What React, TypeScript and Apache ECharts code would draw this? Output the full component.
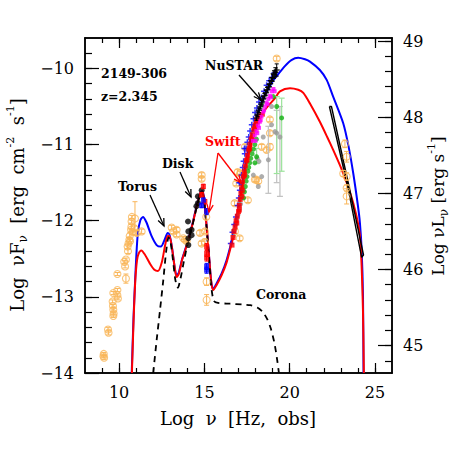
import React, { useEffect, useRef } from 'react';
import * as echarts from 'echarts';

// ---------- axes ----------
const X_MIN = 8, X_MAX = 26;
const Y_MIN = -14, Y_MAX = -9.6;
const R_MIN = 44.64, R_MAX = 49.04;
const xMajorTicks = [10, 15, 20, 25];
const xMinorTicks = [9, 10, 11, 12, 13, 14, 15, 16, 17, 18, 19, 20, 21, 22, 23, 24, 25];
const yMajorTicks = [-14, -13, -12, -11, -10];
const yMinorTicks = [-13.8, -13.6, -13.4, -13.2, -13, -12.8, -12.6, -12.4, -12.2, -12, -11.8, -11.6, -11.4, -11.2, -11, -10.8, -10.6, -10.4, -10.2, -10, -9.8];
const rMajorTicks = [45, 46, 47, 48, 49];
const rMinorTicks = [44.8, 45, 45.2, 45.4, 45.6, 45.8, 46, 46.2, 46.4, 46.6, 46.8, 47, 47.2, 47.4, 47.6, 47.8, 48, 48.2, 48.4, 48.6, 48.8, 49];

// ---------- models ----------
const modelBlue = [
  [10.74, -14.0], [10.84, -13.3], [10.94, -12.78], [11.0, -12.5], [11.1, -12.16], [11.25, -11.99], [11.4, -11.95],
  [11.6, -12.02], [11.9, -12.2], [12.2, -12.32], [12.45, -12.34], [12.65, -12.26], [12.85, -12.16], [12.95, -12.18],
  [13.1, -12.35], [13.25, -12.6], [13.37, -12.72], [13.5, -12.68], [13.7, -12.5], [14.0, -12.29], [14.3, -12.04],
  [14.55, -11.8], [14.75, -11.64], [14.87, -11.61], [14.97, -11.69], [15.1, -11.99], [15.25, -12.4], [15.4, -12.8],
  [15.52, -12.9], [15.7, -12.83], [16.0, -12.7], [16.3, -12.52], [16.6, -12.27], [16.8, -12.08], [17.0, -11.84],
  [17.3, -11.4], [17.6, -11.04], [18.0, -10.68], [18.5, -10.38], [19.0, -10.17], [19.24, -10.1], [19.72, -9.97],
  [20.1, -9.89], [20.5, -9.86], [20.9, -9.88], [21.19, -9.91], [21.77, -10.02], [22.17, -10.15], [22.55, -10.37],
  [23.14, -10.72], [23.45, -11.02], [23.73, -11.38], [24.0, -11.8], [24.12, -12.03], [24.22, -12.38], [24.3, -13.0], [24.33, -14.0],
];
const modelRed = [
  [10.75, -14.0], [10.85, -13.3], [10.95, -12.78], [11.05, -12.52], [11.15, -12.43], [11.3, -12.39], [11.5, -12.44],
  [11.8, -12.56], [12.05, -12.64], [12.28, -12.66], [12.5, -12.55], [12.7, -12.32], [12.85, -12.2], [12.95, -12.2],
  [13.1, -12.36], [13.25, -12.6], [13.37, -12.74], [13.5, -12.7], [13.7, -12.51], [14.0, -12.3], [14.3, -12.05],
  [14.55, -11.81], [14.75, -11.65], [14.87, -11.62], [14.97, -11.7], [15.1, -12.0], [15.25, -12.4], [15.4, -12.8],
  [15.52, -12.91], [15.7, -12.85], [16.0, -12.72], [16.3, -12.55], [16.6, -12.3], [16.8, -12.12], [17.0, -11.88],
  [17.3, -11.46], [17.6, -11.12], [18.0, -10.8], [18.5, -10.56], [19.14, -10.39], [19.43, -10.3], [20.02, -10.26],
  [20.5, -10.28], [20.8, -10.32], [21.19, -10.46], [21.77, -10.7], [22.2, -10.9], [22.55, -11.07], [23.0, -11.3],
  [23.53, -11.62], [23.9, -11.92], [24.12, -12.2], [24.22, -12.6], [24.3, -13.2], [24.35, -14.0],
];
const modelDisk = [
  [12.0, -14.0], [12.2, -13.57], [12.4, -13.17], [12.59, -12.78], [12.75, -12.42], [12.9, -12.22], [13.0, -12.26],
  [13.15, -12.5], [13.3, -12.78], [13.45, -12.88], [13.6, -12.76], [13.8, -12.53], [14.0, -12.32], [14.3, -12.06],
  [14.55, -11.82], [14.75, -11.66], [14.87, -11.63], [14.97, -11.71], [15.1, -12.01], [15.25, -12.42], [15.4, -12.86],
  [15.55, -13.05], [15.8, -13.08], [16.5, -13.09], [17.2, -13.1], [17.7, -13.11], [18.1, -13.14], [18.43, -13.2],
  [18.7, -13.3], [18.9, -13.42], [19.1, -13.6], [19.25, -13.8], [19.37, -14.0],
];
const fermiBowtie = [
  [22.33, -10.5], [22.45, -10.5], [23.53, -11.6], [24.33, -12.45], [24.22, -12.48], [23.45, -11.6], [22.33, -10.5],
];

// ---------- data ----------
// archival [logNu, logNuFnu, err]
const archival = [
  [9.08, -13.78, 0.02], [9.12, -13.8, 0.02], [9.1, -13.75, 0.02], [9.35, -13.43, 0.03], [9.38, -13.47, 0.03],
  [9.62, -13.06, 0.02], [9.64, -13.12, 0.02], [9.66, -13.17, 0.02], [9.68, -13.22, 0.02], [9.66, -13.25, 0.02],
  [9.66, -12.95, 0.02], [9.9, -12.98, 0.02], [9.9, -12.91, 0.02], [9.93, -13.02, 0.02], [9.9, -12.7, 0.02],
  [10.3, -12.54, 0.02], [10.4, -12.51, 0.02], [10.35, -12.6, 0.02], [10.4, -12.76, 0.06], [10.5, -12.34, 0.03],
  [10.52, -12.4, 0.03], [10.55, -12.3, 0.03], [10.6, -12.25, 0.03], [10.64, -12.27, 0.03], [10.62, -12.2, 0.04],
  [10.73, -12.01, 0.02], [10.75, -11.95, 0.02], [10.72, -12.08, 0.03], [10.78, -12.15, 0.03], [10.7, -12.12, 0.02],
  [10.93, -11.97, 0.22], [10.9, -12.1, 0.03], [11.03, -12.16, 0.03], [11.32, -12.14, 0.03],
  [13.08, -12.09, 0.03], [13.18, -12.14, 0.03], [13.37, -12.12, 0.03], [13.37, -12.18, 0.03], [13.76, -12.23, 0.02],
  [13.86, -12.25, 0.02], [13.96, -12.27, 0.02],
  [14.84, -11.4, 0.03], [14.84, -11.45, 0.03], [15.11, -11.95, 0.03], [15.03, -12.14, 0.03], [14.74, -12.16, 0.03],
  [15.03, -12.28, 0.04], [14.84, -12.3, 0.03], [15.13, -12.8, 0.05], [15.13, -13.04, 0.07],
  [16.79, -12.14, 0.03], [16.77, -11.77, 0.03], [16.87, -11.51, 0.03], [16.95, -11.36, 0.03], [17.09, -11.38, 0.03],
  [17.38, -11.03, 0.03], [17.96, -10.81, 0.03], [18.16, -10.67, 0.03], [18.84, -10.67, 0.03], [18.84, -10.85, 0.03],
  [18.84, -11.03, 0.04], [19.24, -9.87, 0.03], [18.16, -11.48, 0.03], [17.96, -11.46, 0.03], [18.36, -11.03, 0.03],
  [18.65, -11.07, 0.03], [17.55, -11.73, 0.03], [17.07, -12.23, 0.03], [18.04, -11.46, 0.03],
  [23.24, -10.99, 0.05], [23.14, -11.38, 0.04], [23.34, -11.16, 0.07], [23.34, -11.42, 0.05], [23.34, -11.57, 0.04],
  [23.34, -11.68, 0.1],
];
const diskBlack = [
  [14.04, -12.01], [14.06, -12.14], [14.06, -12.23], [14.06, -12.32], [14.25, -12.12], [14.25, -12.19],
  [14.62, -11.68], [14.62, -11.77], [14.53, -11.81], [14.84, -11.6],
];
const uvotRed = [
  [14.94, -11.55, 0.03], [14.84, -11.66, 0.03], [15.03, -11.75, 0.03], [15.13, -12.34, 0.04], [15.13, -12.43, 0.04],
  [15.13, -12.49, 0.04],
];
const uvotBlue = [
  [14.94, -11.73, 0.03], [14.84, -11.8, 0.03], [15.13, -11.88, 0.04], [15.13, -12.6, 0.04], [15.13, -12.65, 0.04],
];
const xrayRed = [
  [16.62, -12.32], [16.68, -12.22], [16.74, -12.14], [16.8, -12.08], [16.86, -12.0], [16.93, -11.94], [17.0, -11.88],
  [17.05, -11.8], [17.1, -11.72], [17.14, -11.64], [17.19, -11.56], [17.24, -11.49], [17.29, -11.42], [17.34, -11.35],
  [17.4, -11.28], [17.46, -11.21], [17.53, -11.14], [17.6, -11.07], [17.67, -11.0], [17.74, -10.93], [17.82, -10.87],
  [17.9, -10.8], [17.98, -10.74], [18.06, -10.69], [18.15, -10.65], [18.25, -10.62], [18.4, -10.6], [17.22, -11.6],
  [17.36, -11.4], [17.5, -11.2], [17.65, -11.05], [17.8, -10.9], [17.95, -10.78], [18.1, -10.7], [16.9, -12.03],
  [17.05, -11.86], [17.2, -11.68],
];
const xrayBlue = [
  [16.55, -12.3], [16.65, -12.15], [16.75, -12.05], [16.85, -11.95], [16.95, -11.8], [17.02, -11.7], [17.08, -11.6],
  [17.12, -11.5], [17.18, -11.4], [17.25, -11.3], [17.3, -11.22], [17.37, -11.12], [17.45, -11.05], [17.52, -10.97],
  [17.6, -10.9], [17.68, -10.82], [17.78, -10.74], [17.88, -10.66], [17.97, -10.58], [18.08, -10.52], [18.2, -10.44],
  [18.35, -10.38], [18.5, -10.3], [18.65, -10.22], [18.8, -10.16], [18.95, -10.12], [19.1, -10.06], [17.05, -11.5],
  [17.35, -11.05],
];
const xrayMagenta = [
  [18.05, -10.82], [18.15, -10.75], [18.25, -10.7], [18.35, -10.63], [18.45, -10.57], [18.55, -10.5], [18.65, -10.45],
  [18.75, -10.4], [18.85, -10.36], [18.95, -10.3], [19.05, -10.27], [19.12, -10.3], [18.3, -10.68], [18.5, -10.55],
  [18.7, -10.47], [18.9, -10.38], [17.95, -10.88], [17.85, -10.95], [18.0, -10.95], [18.1, -10.85], [18.2, -10.78],
];
const xrayGreen = [
  [17.4, -11.55], [17.45, -11.48], [17.5, -11.42], [17.55, -11.35], [17.6, -11.3], [17.66, -11.24], [17.72, -11.18],
  [17.8, -11.12], [17.88, -11.06], [17.96, -11.0], [18.05, -10.93], [18.06, -11.16], [17.96, -11.24], [17.67, -11.07],
  [17.3, -11.7], [17.35, -11.62], [18.36, -10.48], [19.04, -10.37], [19.24, -10.5], [19.53, -10.65],
];
const greenBars = [[19.24, -10.5, -11.38, -10.37], [19.53, -10.65, -11.35, -10.39], [18.06, -11.16, -11.25, -11.05]];
const xrayGray = [
  [16.69, -12.2], [16.77, -12.12], [16.83, -12.05], [16.9, -11.98], [16.97, -11.92], [17.05, -11.85], [17.12, -11.78],
  [17.2, -11.7], [17.3, -11.6], [17.87, -11.4], [18.1, -11.18], [18.2, -11.22], [18.36, -11.42], [18.45, -10.9],
  [18.75, -11.2], [18.94, -10.74], [18.94, -10.5], [19.14, -10.83], [19.24, -10.85], [19.43, -10.9], [18.16, -11.55],
];
const grayBars = [[18.75, -11.2, -11.64, -10.76], [19.24, -10.85, -11.5, -10.55], [19.43, -10.9, -11.68, -10.5]];
const nustar = [
  [18.05, -10.65, 0.03], [18.12, -10.6, 0.03], [18.2, -10.55, 0.03], [18.28, -10.5, 0.03], [18.36, -10.45, 0.03],
  [18.44, -10.4, 0.03], [18.52, -10.36, 0.03], [18.6, -10.32, 0.03], [18.68, -10.28, 0.03], [18.76, -10.24, 0.03],
  [18.84, -10.2, 0.04], [18.92, -10.16, 0.04], [19.0, -10.12, 0.05], [19.08, -10.08, 0.05], [19.16, -10.05, 0.06],
  [19.24, -10.02, 0.08],
];

const ORANGE = '#f9b65a';
const FONT = 'DejaVu Serif';

function symErr(color: string, cap: number, lw: number) {
  return (params: any, api: any) => {
    const x = api.value(0), y = api.value(1), e = api.value(2);
    const t = api.coord([x, y + e]);
    const b = api.coord([x, y - e]);
    const st = { stroke: color, lineWidth: lw };
    return {
      type: 'group',
      children: [
        { type: 'line', shape: { x1: t[0], y1: t[1], x2: b[0], y2: b[1] }, style: st },
        { type: 'line', shape: { x1: t[0] - cap, y1: t[1], x2: t[0] + cap, y2: t[1] }, style: st },
        { type: 'line', shape: { x1: b[0] - cap, y1: b[1], x2: b[0] + cap, y2: b[1] }, style: st },
      ],
    };
  };
}
function asymErr(color: string, cap: number, lw: number) {
  return (params: any, api: any) => {
    const x = api.value(0), lo = api.value(2), hi = api.value(3);
    const t = api.coord([x, hi]);
    const b = api.coord([x, lo]);
    const st = { stroke: color, lineWidth: lw };
    return {
      type: 'group',
      children: [
        { type: 'line', shape: { x1: t[0], y1: t[1], x2: b[0], y2: b[1] }, style: st },
        { type: 'line', shape: { x1: t[0] - cap, y1: t[1], x2: t[0] + cap, y2: t[1] }, style: st },
        { type: 'line', shape: { x1: b[0] - cap, y1: b[1], x2: b[0] + cap, y2: b[1] }, style: st },
      ],
    };
  };
}

function arrow(x1: number, y1: number, x2: number, y2: number, color: string) {
  const a = Math.atan2(y2 - y1, x2 - x1);
  const L = 8, w = 0.4;
  const p1 = [x2 - L * Math.cos(a - w), y2 - L * Math.sin(a - w)];
  const p2 = [x2 - L * Math.cos(a + w), y2 - L * Math.sin(a + w)];
  return [
    { type: 'line', shape: { x1, y1, x2, y2 }, style: { stroke: color, lineWidth: 1.3 }, z: 100 },
    { type: 'polyline', shape: { points: [p1, [x2, y2], p2] }, style: { stroke: color, lineWidth: 1.3, fill: null }, z: 100 },
  ];
}

function label(text: string, x: number, y: number, color = '#000') {
  return {
    type: 'text', x, y, z: 100,
    style: { text, fill: color, font: `bold 12.5px "${FONT}"`, align: 'left', verticalAlign: 'middle' },
  };
}

const PLUS = 'path://M3,0H5V3H8V5H5V8H3V5H0V3H3Z';

function xAx(ticks: number[], len: number, pos: string, labels: boolean) {
  return {
    type: 'value', min: X_MIN, max: X_MAX, position: pos,
    splitLine: { show: false },
    axisLine: { show: true, onZero: false, lineStyle: { color: '#000', width: 1.5 } },
    axisTick: { show: true, inside: true, length: len, customValues: ticks, lineStyle: { color: '#000', width: 1.2 } },
    axisLabel: labels
      ? { show: true, customValues: xMajorTicks, color: '#000', fontFamily: FONT, fontSize: 16, margin: 11 }
      : { show: false },
  };
}
function yAx(ticks: number[], len: number, pos: string, labels: number[] | null, min: number, max: number) {
  return {
    type: 'value', min, max, position: pos,
    splitLine: { show: false },
    axisLine: { show: true, onZero: false, lineStyle: { color: '#000', width: 1.5 } },
    axisTick: { show: true, inside: true, length: len, customValues: ticks, lineStyle: { color: '#000', width: 1.2 } },
    axisLabel: labels
      ? {
          show: true, customValues: labels, color: '#000', fontFamily: FONT, fontSize: 16, margin: 11,
          formatter: (v: number) => (v < 0 ? '\u2212' + Math.abs(v) : String(v)),
        }
      : { show: false },
  };
}

export default function App() {
  const ref = useRef<HTMLDivElement>(null);
  useEffect(() => {
    if (!ref.current) return;
    const chart = echarts.init(ref.current, null, { renderer: 'svg' });
    const mk = (size: number) => ({
      a: { fontSize: size, fontFamily: FONT, lineHeight: 24, color: '#000' },
      b: { fontSize: 12, fontFamily: FONT, lineHeight: 24, verticalAlign: 'bottom', color: '#000' },
      c: { fontSize: 11, fontFamily: FONT, lineHeight: 24, verticalAlign: 'top', color: '#000' },
    });

    const option: any = {
      animation: false,
      backgroundColor: '#fff',
      grid: { left: 85, right: 66, top: 38, bottom: 85 },
      xAxis: [
        xAx(xMajorTicks, 10, 'bottom', true),
        xAx(xMinorTicks, 5, 'bottom', false),
        xAx(xMajorTicks, 10, 'top', false),
        xAx(xMinorTicks, 5, 'top', false),
      ],
      yAxis: [
        yAx(yMajorTicks, 14, 'left', yMajorTicks, Y_MIN, Y_MAX),
        yAx(yMinorTicks, 7, 'left', null, Y_MIN, Y_MAX),
        yAx(rMajorTicks, 14, 'right', rMajorTicks, R_MIN, R_MAX),
        yAx(rMinorTicks, 7, 'right', null, R_MIN, R_MAX),
      ],
      series: [
        { type: 'line', data: modelBlue, showSymbol: false, smooth: 0.25, lineStyle: { color: '#0000ff', width: 2 }, z: 2 },
        { type: 'line', data: modelRed, showSymbol: false, smooth: 0.25, lineStyle: { color: '#ff0000', width: 2 }, z: 3 },
        { type: 'line', data: modelDisk, showSymbol: false, smooth: 0.25, lineStyle: { color: '#000', width: 1.8, type: [6, 5] }, z: 3 },
        { type: 'line', data: fermiBowtie, showSymbol: false, lineStyle: { color: '#000', width: 1.4 }, z: 3 },
        { type: 'custom', data: archival, renderItem: symErr(ORANGE, 2.5, 1), encode: { x: 0, y: 1 }, z: 4 },
        { type: 'scatter', data: archival.map((d) => [d[0], d[1]]), symbol: 'circle', symbolSize: 7,
          itemStyle: { color: 'rgba(255,255,255,0)', borderColor: ORANGE, borderWidth: 1.1 }, z: 4 },
        { type: 'custom', data: grayBars, renderItem: asymErr('#c0c0c0', 3, 1.2), encode: { x: 0, y: 1 }, z: 5 },
        { type: 'custom', data: greenBars, renderItem: asymErr('#9be39b', 3, 1.2), encode: { x: 0, y: 1 }, z: 5 },
        { type: 'scatter', data: xrayGray, symbol: 'circle', symbolSize: 5, itemStyle: { color: '#999999' }, z: 6 },
        { type: 'scatter', data: xrayGreen, symbol: 'circle', symbolSize: 5, itemStyle: { color: '#13b013' }, z: 6 },
        { type: 'scatter', data: xrayBlue, symbol: PLUS, symbolSize: 6, itemStyle: { color: '#0000ff' }, z: 7 },
        { type: 'scatter', data: xrayRed, symbol: 'rect', symbolSize: 5, itemStyle: { color: '#ff0000' }, z: 8 },
        { type: 'scatter', data: xrayMagenta, symbol: 'rect', symbolSize: 4, itemStyle: { color: '#ff00ff' }, z: 8 },
        { type: 'custom', data: nustar, renderItem: symErr('#000', 2, 1), encode: { x: 0, y: 1 }, z: 9 },
        { type: 'scatter', data: nustar.map((d) => [d[0], d[1]]), symbol: PLUS, symbolSize: 6, itemStyle: { color: '#000' }, z: 9 },
        { type: 'scatter', data: diskBlack, symbol: 'circle', symbolSize: 6, itemStyle: { color: '#000' }, z: 9 },
        { type: 'custom', data: uvotRed, renderItem: symErr('#ff0000', 2, 1), encode: { x: 0, y: 1 }, z: 10 },
        { type: 'scatter', data: uvotRed.map((d) => [d[0], d[1]]), symbol: 'rect', symbolSize: 5, itemStyle: { color: '#ff0000' }, z: 10 },
        { type: 'custom', data: uvotBlue, renderItem: symErr('#0000ff', 2, 1), encode: { x: 0, y: 1 }, z: 10 },
        { type: 'scatter', data: uvotBlue.map((d) => [d[0], d[1]]), symbol: 'rect', symbolSize: 5, itemStyle: { color: '#0000ff' }, z: 10 },
      ],
      graphic: [
        label('2149-306', 101, 73),
        label('z=2.345', 101, 96),
        label('NuSTAR', 205, 65),
        label('Swift', 205, 141, '#ff0000'),
        label('Disk', 162, 163),
        label('Torus', 118, 186),
        label('Corona', 256, 294),
        ...arrow(239, 75, 261, 100, '#000'),
        ...arrow(218, 153, 209, 212, '#ff0000'),
        ...arrow(218, 153, 241, 183, '#ff0000'),
        ...arrow(180, 172, 191, 197, '#000'),
        ...arrow(150, 195, 164, 226, '#000'),
        {
          type: 'text', x: 238, y: 418, z: 100,
          style: { text: '{a|Log  ν  [Hz,  obs]}', rich: mk(18), align: 'center', verticalAlign: 'middle' },
        },
        {
          type: 'text', x: 17, y: 205, rotation: Math.PI / 2, z: 100,
          style: { text: '{a|Log  νF}{b|ν}{a|  [erg  cm}{c|-2}{a|  s}{c|-1}{a|]}', rich: mk(18), align: 'center', verticalAlign: 'middle' },
        },
        {
          type: 'text', x: 438, y: 206, rotation: Math.PI / 2, z: 100,
          style: { text: '{a|Log νL}{b|ν}{a| [erg s}{c|-1}{a|]}', rich: mk(17), align: 'center', verticalAlign: 'middle' },
        },
      ],
    };
    chart.setOption(option);
    return () => chart.dispose();
  }, []);
  return <div ref={ref} style={{ position: 'fixed', left: 0, top: 0, width: 458, height: 458, background: '#fff' }} />;
}
